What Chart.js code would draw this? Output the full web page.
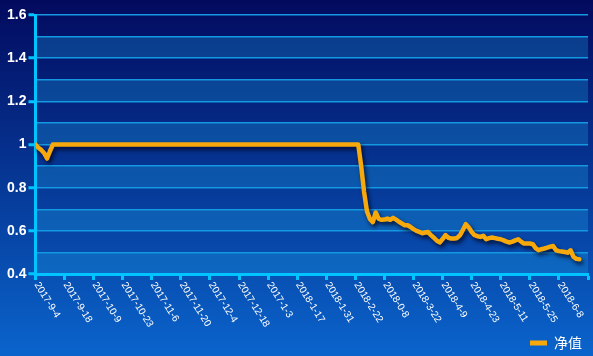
<!DOCTYPE html>
<html>
<head>
<meta charset="utf-8">
<script src="https://cdn.jsdelivr.net/npm/chart.js@4/dist/chart.umd.min.js"></script>
<style>
html,body{margin:0;padding:0;background:#04148a;}
#wrap{width:593px;height:356px;}
</style>
</head>
<body>
<div id="wrap"><canvas id="c" width="593" height="356"></canvas></div>
<script>
// Tick labels for the x axis (every 10 trading days)
const tickLabels = ["2017-9-4","2017-9-18","2017-10-9","2017-10-23","2017-11-6","2017-11-20","2017-12-4","2017-12-18","2017-1-3","2018-1-17","2018-1-31","2018-2-22","2018-0-8","2018-3-22","2018-4-9","2018-4-23","2018-5-11","2018-5-25","2018-6-8"];
const seriesName = "净值";
// Net value, one entry per trading day
const navStart = [1.0,0.985,0.975,0.96,0.935,0.97];
const navFlat = [1,1,1,1,1,1,1,1,1,1, 1,1,1,1,1,1,1,1,1,1, 1,1,1,1,1,1,1,1,1,1, 1,1,1,1,1,1,1,1,1,1, 1,1,1,1,1,1,1,1,1,1, 1,1,1,1,1,1,1,1,1,1, 1,1,1,1,1,1,1,1,1,1, 1,1,1,1,1,1,1,1,1,1, 1,1,1,1,1,1,1,1,1,1, 1,1,1,1,1,1,1,1,1,1, 1,1,1,1,1,1];
const navDrop = [0.90,0.78,0.69,0.655,0.64,0.685,0.656,0.651,0.652,0.657,
  0.651,0.66,0.652,0.642,0.634,0.626,0.626,0.618,0.608,0.60,
  0.595,0.589,0.592,0.595,0.58,0.568,0.555,0.546,0.562,0.58,
  0.568,0.564,0.564,0.567,0.58,0.605,0.631,0.616,0.595,0.58,
  0.575,0.572,0.577,0.561,0.566,0.569,0.566,0.563,0.561,0.556,
  0.55,0.546,0.55,0.556,0.561,0.55,0.541,0.541,0.541,0.538,
  0.52,0.51,0.515,0.518,0.522,0.527,0.53,0.51,0.506,0.504,
  0.502,0.499,0.51,0.48,0.47,0.468];
const navValues = navStart.concat(navFlat, navDrop);
const yTickValues = [0.4,0.6,0.8,1,1.2,1.4,1.6];

const points = navValues.map((v,i)=>({x:i,y:v}));

const bgPlugin = {
  id:'bg',
  afterLayout(chart){
    if (chart.legend){ chart.legend.top += 4; chart.legend.bottom += 4; }
  },
  beforeDraw(chart){
    const {ctx,width,height,chartArea,scales} = chart;
    ctx.save();
    const g = ctx.createLinearGradient(0,0,0,height);
    g.addColorStop(0,'#020a5e');
    g.addColorStop(1,'#0a64cc');
    ctx.fillStyle = g;
    ctx.fillRect(0,0,width,height);
    const y = scales.y;
    ctx.fillStyle = 'rgba(30,170,230,0.28)';
    for (let k=4;k<16;k+=2){
      const top = y.getPixelForValue((k+1)/10);
      const bot = y.getPixelForValue(k/10);
      ctx.fillRect(chartArea.left, top, chartArea.right-chartArea.left, bot-top);
    }
    ctx.restore();
  },
  beforeDatasetsDraw(chart){
    const ctx = chart.ctx;
    ctx.save();
    ctx.shadowColor = 'rgba(0,0,25,0.75)';
    ctx.shadowBlur = 4;
    ctx.shadowOffsetX = 2;
    ctx.shadowOffsetY = 3;
  },
  afterDatasetsDraw(chart){
    chart.ctx.restore();
  },
  afterDraw(chart){
    const {ctx,scales} = chart;
    const xs = scales.x;
    ctx.save();
    ctx.fillStyle = '#ffffff';
    ctx.font = '10px "Liberation Sans", Arial, sans-serif';
    ctx.textAlign = 'left';
    ctx.textBaseline = 'middle';
    tickLabels.forEach((lab,i)=>{
      const px = xs.getPixelForValue(i*10);
      ctx.save();
      ctx.translate(px+1, xs.top+9);
      ctx.rotate(58*Math.PI/180);
      ctx.fillText(lab,0,0);
      ctx.restore();
    });
    ctx.restore();
  }
};

const isMajor = v => Math.round(v*10)%2===0;

new Chart(document.getElementById('c'),{
  type:'line',
  data:{datasets:[{
    label:seriesName,
    data:points,
    borderColor:'#f7a90c',
    backgroundColor:'#f7a90c',
    borderWidth:4.5,
    pointRadius:0,
    tension:0,
    borderJoinStyle:'round',
    borderCapStyle:'round',
    fill:false
  }]},
  options:{
    responsive:false,
    animation:false,
    layout:{padding:{left:5,right:5,top:15,bottom:0}},
    plugins:{
      tooltip:{enabled:false},
      legend:{
        position:'bottom',
        align:'end',
        labels:{
          color:'#ffffff',
          font:{family:'"Noto Sans CJK SC", sans-serif',size:14},
          boxWidth:17,
          boxHeight:5,
          padding:6,
          generateLabels(chart){
            return chart.data.datasets.map((ds,i)=>({
              text:ds.label,fillStyle:'#f7a90c',strokeStyle:'rgba(0,0,0,0)',lineWidth:0,
              fontColor:'#ffffff',datasetIndex:i,hidden:false
            }));
          }
        }
      }
    },
    scales:{
      x:{
        type:'linear',
        min:0,max:190,
        ticks:{display:false,stepSize:10},
        afterFit(s){ s.height = 52; },
        grid:{drawOnChartArea:false,drawTicks:true,tickLength:6,tickColor:'#00c4ff',tickWidth:3},
        border:{display:true,color:'#00c4ff',width:3}
      },
      y:{
        min:0.4,max:1.6,
        afterBuildTicks(s){ s.ticks = []; for(let k=4;k<=16;k++) s.ticks.push({value:k/10}); },
        ticks:{
          stepSize:0.1,
          padding:2,
          color:'#ffffff',
          font:{family:'"Liberation Sans", Arial, sans-serif',size:14,weight:'bold'},
          callback(v){ const r=Math.round(v*10)/10; return yTickValues.includes(r)?String(r):''; }
        },
        grid:{
          color:'#1598e2',
          lineWidth:1.5,
          tickLength:7,
          tickWidth:3,
          tickColor(ctx){ return ctx.tick && isMajor(ctx.tick.value) ? '#00c4ff' : 'rgba(0,0,0,0)'; }
        },
        border:{display:true,color:'#00c4ff',width:3}
      }
    }
  },
  plugins:[bgPlugin]
});
</script>
</body>
</html>
